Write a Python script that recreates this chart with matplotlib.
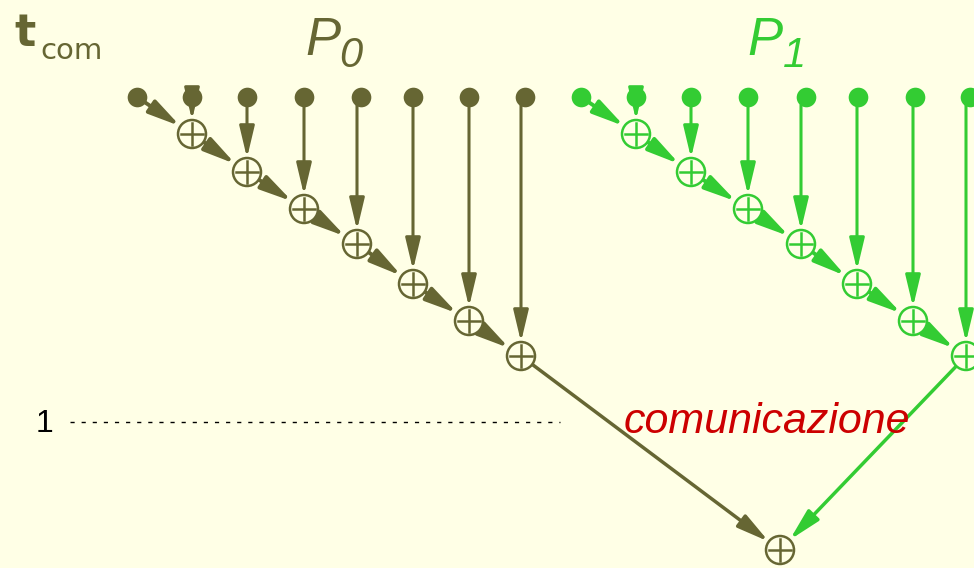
import matplotlib
matplotlib.use("Agg")
import matplotlib.pyplot as plt
from matplotlib.patches import Circle, FancyArrowPatch

# --- diagram data (pixel-like coordinates) ---
p0_leaf_x = [137, 192, 247, 304, 361, 413, 469, 525]
p1_leaf_x = [581, 636, 691, 748, 806, 858, 915, 970]
p0_node_x = [192, 247, 304, 357, 413, 469, 521]
p1_node_x = [636, 691, 748, 801, 857, 913, 966]
node_y = [134, 172, 209, 244, 284, 321, 356]
leaf_y = 97
root_xy = (780, 550)
comm_y = 422

olive = '#666633'
green = '#33CC33'
bg = '#FFFFE6'
R = 14      # radius of the (+) nodes
PT = 72 / 100.0


def arrow(ax, a, b, color, lw, sa, sb):
    ar = FancyArrowPatch(a, b, arrowstyle='-|>,head_length=1.6,head_width=0.38',
                         mutation_scale=12, color=color, lw=lw,
                         shrinkA=sa, shrinkB=sb, zorder=2)
    ax.add_patch(ar)


def plus(ax, x, y, color):
    ax.add_patch(Circle((x, y), R, facecolor=bg, edgecolor=color, lw=1.8, zorder=3))
    ax.plot([x - R + 3, x + R - 3], [y, y], color=color, lw=1.8, zorder=4)
    ax.plot([x, x], [y - R + 3, y + R - 3], color=color, lw=1.8, zorder=4)


fig = plt.figure(figsize=(9.74, 5.68), dpi=100)
fig.patch.set_facecolor(bg)
ax = fig.add_axes([0, 0, 1, 1])
ax.set_facecolor(bg)
ax.set_xlim(0, 974)
ax.set_ylim(568, 0)
ax.set_aspect('equal')
ax.axis('off')

for leaves, nodes, col in [(p0_leaf_x, p0_node_x, olive), (p1_leaf_x, p1_node_x, green)]:
    ax.scatter(leaves, [leaf_y] * len(leaves), s=200, color=col, zorder=3, linewidths=0)
    # first diagonal: leaf 0 -> node 0
    arrow(ax, (leaves[0], leaf_y), (nodes[0], node_y[0]), col, 2.8, 8 * PT, R * PT)
    # verticals
    for j in range(1, len(leaves)):
        arrow(ax, (nodes[j - 1], leaf_y), (nodes[j - 1], node_y[j - 1]), col, 2.2, 8 * PT, R * PT)
    # chain of diagonals
    for i in range(len(nodes) - 1):
        arrow(ax, (nodes[i], node_y[i]), (nodes[i + 1], node_y[i + 1]), col, 2.8, R * PT, R * PT)
    for x, y in zip(nodes, node_y):
        plus(ax, x, y, col)
    # communication to root
    arrow(ax, (nodes[-1], node_y[-1]), root_xy, col, 2.5, R * PT, R * PT)

plus(ax, root_xy[0], root_xy[1], olive)

# communication level line
ax.plot([70, 560], [comm_y, comm_y], color='black', lw=1, ls=(0, (3, 5)), zorder=1)
ax.text(45, comm_y + 2, '1', fontsize=23, color='black', ha='center', va='center',
        family='Liberation Sans')
ax.text(767, comm_y, 'comunicazione', fontsize=31, color='#CC0000', style='italic',
        ha='center', va='center', family='Liberation Sans')

# titles
ax.text(305, 55, 'P', fontsize=38, color=olive, style='italic', family='Liberation Sans')
ax.text(339, 67, '0', fontsize=30, color=olive, style='italic', family='Liberation Sans')
ax.text(747, 55, 'P', fontsize=38, color=green, style='italic', family='Liberation Sans')
ax.text(783, 67, '1', fontsize=30, color=green, style='italic', family='Liberation Sans')

ax.text(14, 46, 't', fontsize=32, color=olive, weight='bold', family='DejaVu Sans')
ax.text(40, 59, 'com', fontsize=21, color=olive, family='DejaVu Sans')

plt.savefig('out.png', dpi=100, facecolor=bg)
